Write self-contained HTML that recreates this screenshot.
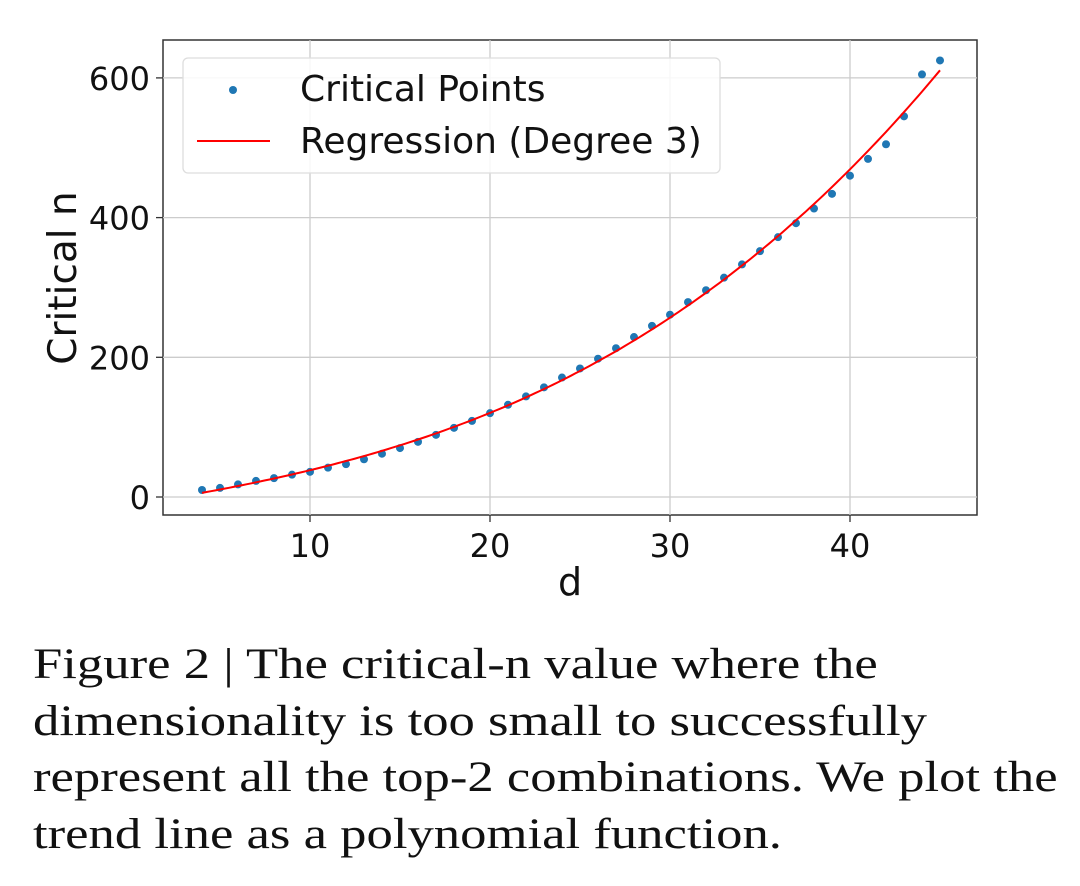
<!DOCTYPE html>
<html><head><style>
body{margin:0;background:#fff;width:1080px;height:886px;overflow:hidden}
.cap{position:absolute;left:33px;top:637px;font-family:"Liberation Serif",serif;font-size:43px;line-height:56.5px;color:#111;white-space:nowrap;transform:scaleX(1.225);transform-origin:0 0}
</style></head><body>
<svg id="s" width="1080" height="640" style="position:absolute;left:0;top:0" font-family="DejaVu Sans, Liberation Sans, sans-serif"></svg>
<div class="cap">Figure 2 | The critical-n value where the<br>dimensionality is too small to successfully<br>represent all the top-2 combinations. We plot the<br>trend line as a polynomial function.</div>
<script>
const data=[10,13,18,23,27,32,36,42,47,54,62,70,79,89,99,109,120,132,144,157,171,184,198,213,229,245,261,279,296,314,333,352,372,392,413,434,460,484,505,545,605,625];
const X=d=>310+(d-10)*18, Y=v=>497-v*0.6985;
let s='';
s+='<rect x="163" y="40" width="814" height="475" fill="#fff" stroke="#333" stroke-width="1.5"/>';
for(const d of [10,20,30,40]){s+=`<line x1="${X(d)}" x2="${X(d)}" y1="40" y2="515" stroke="#ccc" stroke-width="1.3"/><line x1="${X(d)}" x2="${X(d)}" y1="515" y2="522" stroke="#333" stroke-width="1.3"/><text x="${X(d)}" y="557" font-size="32" text-anchor="middle" fill="#111">${d}</text>`;}
for(const v of [0,200,400,600]){s+=`<line x1="163" x2="977" y1="${Y(v)}" y2="${Y(v)}" stroke="#ccc" stroke-width="1.3"/><line x1="156" x2="163" y1="${Y(v)}" y2="${Y(v)}" stroke="#333" stroke-width="1.3"/><text x="150" y="${Y(v)+12}" font-size="32" text-anchor="end" fill="#111">${v}</text>`;}
const n=data.length;let A=[[0,0,0,0],[0,0,0,0],[0,0,0,0],[0,0,0,0]],b=[0,0,0,0];
data.forEach((v,i)=>{const d=(i+4)/10;const p=[1,d,d*d,d*d*d];for(let r=0;r<4;r++){b[r]+=p[r]*v;for(let c=0;c<4;c++)A[r][c]+=p[r]*p[c];}});
for(let i=0;i<4;i++){for(let j=i+1;j<4;j++){const f=A[j][i]/A[i][i];for(let k=0;k<4;k++)A[j][k]-=f*A[i][k];b[j]-=f*b[i];}}
const c=[0,0,0,0];for(let i=3;i>=0;i--){let t=b[i];for(let k=i+1;k<4;k++)t-=A[i][k]*c[k];c[i]=t/A[i][i];}
let pts=[];for(let d=4;d<=45.001;d+=0.25){const x=d/10;pts.push(X(d).toFixed(1)+','+Y(c[0]+c[1]*x+c[2]*x*x+c[3]*x*x*x).toFixed(1));}
data.forEach((v,i)=>{s+=`<circle cx="${X(i+4)}" cy="${Y(v)}" r="4" fill="#1f77b4"/>`;});
s+=`<polyline points="${pts.join(' ')}" fill="none" stroke="#ff0000" stroke-width="2"/>`;
s+='<rect x="183" y="58" width="537" height="115" rx="5" fill="#fff" fill-opacity="0.85" stroke="#ddd" stroke-width="1.3"/>';
s+='<circle cx="233" cy="90" r="4" fill="#1f77b4"/><text x="300" y="101" font-size="36" fill="#111">Critical Points</text>';
s+='<line x1="197" x2="270" y1="141" y2="141" stroke="#ff0000" stroke-width="2"/><text x="300" y="153" font-size="36" fill="#111">Regression (Degree 3)</text>';
s+='<text x="570" y="595" font-size="38" text-anchor="middle" fill="#111">d</text>';
s+='<text transform="translate(76,278) rotate(-90)" font-size="39" text-anchor="middle" fill="#111">Critical n</text>';
document.getElementById('s').innerHTML=s;
</script>
</body></html>
